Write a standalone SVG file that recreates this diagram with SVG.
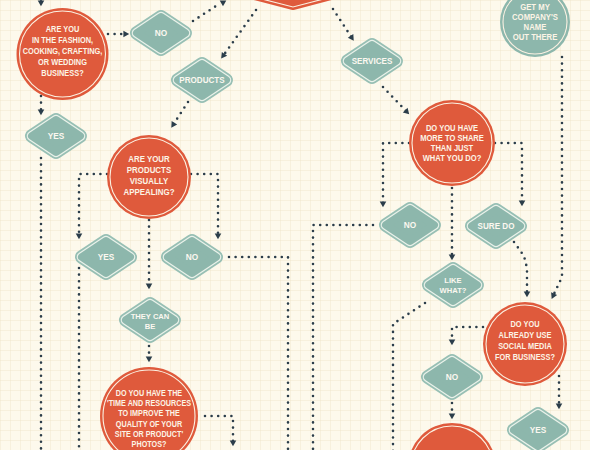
<svg xmlns="http://www.w3.org/2000/svg" xmlns:xlink="http://www.w3.org/1999/xlink" width="590" height="450" viewBox="0 0 590 450">
<style>
.rc{fill:#df5a3c}
.tc{fill:#8db7ac}
.ring{fill:none;stroke:#fbf1e2;stroke-width:1.1}
.d1{fill:#97bfb4;stroke:#97bfb4;stroke-width:14;stroke-linejoin:round}
.d2{fill:none;stroke:#eaf2ea;stroke-width:10.5;stroke-linejoin:round}
.d3{fill:#8db7ac;stroke:#8db7ac;stroke-width:8;stroke-linejoin:round}
.t{fill:#fcf4e6;font-family:"Liberation Sans",Arial,sans-serif;font-weight:bold;text-anchor:middle;font-size:8.6px}
.td{fill:#fcf8f0;font-family:"Liberation Sans",Arial,sans-serif;font-weight:bold;text-anchor:middle;font-size:9px}
.td2{fill:#fcf8f0;font-family:"Liberation Sans",Arial,sans-serif;font-weight:bold;text-anchor:middle;font-size:8px}
.c{fill:none;stroke:#2b3d4a;stroke-width:2.6;stroke-linecap:round;stroke-linejoin:round;stroke-dasharray:0 6.6;marker-end:url(#ah)}
</style>
<defs>
<pattern id="grid" width="10" height="10" patternUnits="userSpaceOnUse">
<path d="M10 0 L0 0 0 10" fill="none" stroke="#efe4ca" stroke-width="0.9"/>
</pattern>
<marker id="ah" viewBox="-4 -4 8 8" refX="0" refY="0" markerWidth="8" markerHeight="8" markerUnits="userSpaceOnUse" orient="auto">
<path d="M-2.6 -3.3 L3.2 0 L-2.6 3.3 Z" fill="#2b3d4a"/>
</marker>
<path id="dp" d="M-24 0 L0 -16 L24 0 L0 16 Z"/>
<g id="dia">
<use xlink:href="#dp" href="#dp" class="d1"/>
<use xlink:href="#dp" href="#dp" class="d2"/>
<use xlink:href="#dp" href="#dp" class="d3"/>
</g>
</defs>
<rect width="590" height="450" fill="#fdf9ec"/>
<rect width="590" height="450" fill="url(#grid)"/>

<g id="connectors">
<path class="c" d="M41 -20 L41 3"/>
<path class="c" d="M108 34 L126 34"/>
<path class="c" d="M193 21 L216 6 M223 -4 L223 3"/>
<path class="c" d="M256 10 L223 56"/>
<path class="c" d="M188 102 L173 125"/>
<path class="c" d="M333 9 L352 38"/>
<path class="c" d="M383 87 L407 112"/>
<path class="c" d="M562 57 L562 277 L553 296"/>
<path class="c" d="M409 143 L383 143 L383 204"/>
<path class="c" d="M495 143 L522 143 L522 203"/>
<path class="c" d="M452 188 L452 257"/>
<path class="c" d="M514 242 L524 256 L527 268 L527 294"/>
<path class="c" d="M425 303 L393 324 L393 470"/>
<path class="c" d="M483 327 L452 327 L452 342"/>
<path class="c" d="M452 403 L452 416"/>
<path class="c" d="M559 376 L559 406"/>
<path class="c" d="M41 96 L41 112"/>
<path class="c" d="M41 158 L41 470"/>
<path class="c" d="M107 174 L79 174 L79 236"/>
<path class="c" d="M191 174 L218 174 L218 236"/>
<path class="c" d="M149 220 L149 286"/>
<path class="c" d="M149 346 L149 359"/>
<path class="c" d="M79 268 L79 470"/>
<path class="c" d="M229 257 L288 257 L288 470"/>
<path class="c" d="M373 225 L313 225 L313 470"/>
<path class="c" d="M205 416 L233 416 L233 443"/>
</g>

<g id="n-top">
<path d="M180 -22 L293 7 L404 -22 Z" fill="#df5a3c" stroke="#df5a3c" stroke-width="6" stroke-linejoin="round"/>
<path d="M180 -22 L293 7 L404 -22" fill="none" stroke="#fbf1e2" stroke-width="1.1"/>
</g>

<g id="n-fashion" transform="translate(62.5,54)">
<circle r="46" class="rc"/>
<circle r="43" class="ring"/>
<text class="t" transform="scale(0.86,1)"><tspan x="0" y="-22.5">ARE YOU</tspan><tspan x="0" y="-11.5">IN  THE FASHION,</tspan><tspan x="0" y="0">COOKING, CRAFTING,</tspan><tspan x="0" y="11">OR WEDDING</tspan><tspan x="0" y="22">BUSINESS?</tspan></text>
</g>

<g id="n-no1" transform="translate(161,33)">
<use xlink:href="#dia" href="#dia"/>
<text class="td" transform="scale(0.92,1)" x="0" y="3.2">NO</text>
</g>

<g id="n-products" transform="translate(202,80)">
<use xlink:href="#dia" href="#dia"/>
<text class="td" transform="scale(0.9,1)" x="0" y="3.2">PRODUCTS</text>
</g>

<g id="n-services" transform="translate(372,61)">
<use xlink:href="#dia" href="#dia"/>
<text class="td" transform="scale(0.9,1)" x="0" y="3.2">SERVICES</text>
</g>

<g id="n-getname" transform="translate(535,22)">
<circle r="35" class="tc"/>
<circle r="32" class="ring"/>
<text class="t" transform="scale(0.9,1)"><tspan x="0" y="-12">GET MY</tspan><tspan x="0" y="-2">COMPANY'S</tspan><tspan x="0" y="8">NAME</tspan><tspan x="0" y="18">OUT THERE</tspan></text>
</g>

<g id="n-yes1" transform="translate(56,136)">
<use xlink:href="#dia" href="#dia"/>
<text class="td" transform="scale(0.92,1)" x="0" y="3.2">YES</text>
</g>

<g id="n-appealing" transform="translate(149,177)">
<circle r="42" class="rc"/>
<circle r="39" class="ring"/>
<text class="t" transform="scale(0.92,1)"><tspan x="0" y="-15">ARE YOUR</tspan><tspan x="0" y="-4">PRODUCTS</tspan><tspan x="0" y="7">VISUALLY</tspan><tspan x="0" y="18">APPEALING?</tspan></text>
</g>

<g id="n-share" transform="translate(452,143)">
<circle r="43" class="rc"/>
<circle r="40" class="ring"/>
<text class="t" transform="scale(0.88,1)"><tspan x="0" y="-12">DO YOU HAVE</tspan><tspan x="0" y="-2">MORE TO SHARE</tspan><tspan x="0" y="8">THAN JUST</tspan><tspan x="0" y="18">WHAT YOU DO?</tspan></text>
</g>

<g id="n-no2" transform="translate(410,225)">
<use xlink:href="#dia" href="#dia"/>
<text class="td" transform="scale(0.92,1)" x="0" y="3.2">NO</text>
</g>

<g id="n-suredo" transform="translate(496,226)">
<use xlink:href="#dia" href="#dia"/>
<text class="td" transform="scale(0.9,1)" x="0" y="3.2">SURE DO</text>
</g>

<g id="n-yes2" transform="translate(106,257)">
<use xlink:href="#dia" href="#dia"/>
<text class="td" transform="scale(0.92,1)" x="0" y="3.2">YES</text>
</g>

<g id="n-no3" transform="translate(192,257)">
<use xlink:href="#dia" href="#dia"/>
<text class="td" transform="scale(0.92,1)" x="0" y="3.2">NO</text>
</g>

<g id="n-likewhat" transform="translate(453,285)">
<use xlink:href="#dia" href="#dia"/>
<text class="td2" transform="scale(0.95,1)"><tspan x="0" y="-1.8">LIKE</tspan><tspan x="0" y="7.9">WHAT?</tspan></text>
</g>

<g id="n-theycanbe" transform="translate(150,320)">
<use xlink:href="#dia" href="#dia"/>
<text class="td2" transform="scale(0.95,1)"><tspan x="0" y="-0.6">THEY CAN</tspan><tspan x="0" y="9.1">BE</tspan></text>
</g>

<g id="n-social" transform="translate(525,344)">
<circle r="42" class="rc"/>
<circle r="39" class="ring"/>
<text class="t" transform="scale(0.86,1)"><tspan x="0" y="-17">DO YOU</tspan><tspan x="0" y="-6">ALREADY USE</tspan><tspan x="0" y="5">SOCIAL MEDIA</tspan><tspan x="0" y="16">FOR BUSINESS?</tspan></text>
</g>

<g id="n-no4" transform="translate(452,377)">
<use xlink:href="#dia" href="#dia"/>
<text class="td" transform="scale(0.92,1)" x="0" y="3.2">NO</text>
</g>

<g id="n-yes3" transform="translate(538,430)">
<use xlink:href="#dia" href="#dia"/>
<text class="td" transform="scale(0.92,1)" x="0" y="3.2">YES</text>
</g>

<g id="n-bottom" transform="translate(452,467)">
<circle r="44" class="rc"/>
<circle r="41" class="ring"/>
</g>

<g id="n-photos" transform="translate(149,416)">
<circle r="49" class="rc"/>
<circle r="46" class="ring"/>
<text class="t" transform="scale(0.84,1)"><tspan x="0" y="-20">DO YOU HAVE THE</tspan><tspan x="0" y="-10">'TIME AND RESOURCES</tspan><tspan x="0" y="0">TO IMPROVE THE</tspan><tspan x="0" y="11">QUALITY OF YOUR</tspan><tspan x="0" y="21">SITE OR PRODUCT'</tspan><tspan x="0" y="31">PHOTOS?</tspan></text>
</g>
</svg>
